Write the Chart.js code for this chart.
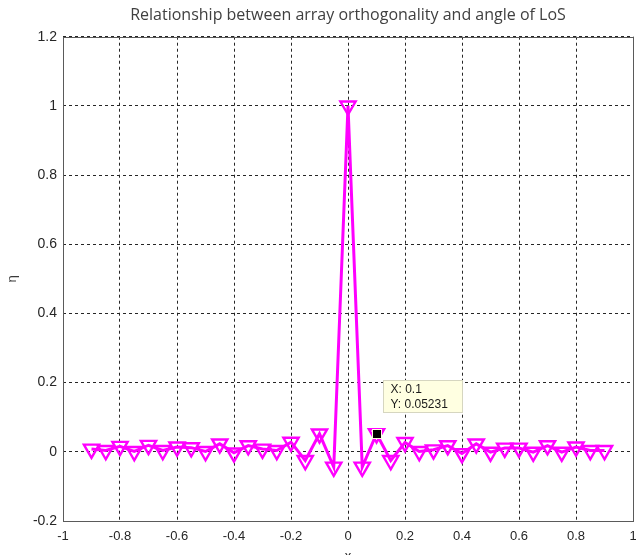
<!DOCTYPE html>
<html>
<head>
<meta charset="utf-8">
<script src="https://cdn.jsdelivr.net/npm/chart.js@4"></script>
<style>
html,body{margin:0;padding:0;background:#fff;overflow:hidden;}
#wrap{width:650px;height:570px;}
</style>
</head>
<body>
<div id="wrap"><canvas id="c" width="650" height="570"></canvas></div>
<script>
const xVals = [-0.9,-0.85,-0.8,-0.75,-0.7,-0.65,-0.6,-0.55,-0.5,-0.45,-0.4,-0.35,-0.3,-0.25,-0.2,-0.15,-0.1,-0.05,0,
  0.05,0.1,0.15,0.2,0.25,0.3,0.35,0.4,0.45,0.5,0.55,0.6,0.65,0.7,0.75,0.8,0.85,0.9];
const etaVals = [0.008,0.004,0.016,0.001,0.019,0.004,0.014,0.012,0.001,0.023,-0.003,0.018,0.008,0.004,0.028,-0.025,0.052,-0.044,1.0,
  -0.044,0.05231,-0.025,0.027,0.001,0.006,0.018,-0.005,0.023,-0.001,0.011,0.011,-0.001,0.018,-0.001,0.014,0.004,0.004];
const xTicks = [-1,-0.8,-0.6,-0.4,-0.2,0,0.2,0.4,0.6,0.8,1];
const yTicks = [-0.2,0,0.2,0.4,0.6,0.8,1,1.2];
const tipX = [0.1];
const tipY = [0.05231];
const titleText = 'Relationship between array orthogonality and angle of LoS';

const FONT = '"Liberation Sans", Arial, sans-serif';

const boxPlugin = {
  id: 'boxPlugin',
  afterDraw(chart) {
    const {ctx, chartArea: a, scales} = chart;
    ctx.save();
    ctx.strokeStyle = '#5a5a5a';
    ctx.lineWidth = 1;
    ctx.strokeRect(Math.round(a.left) + 0.5, Math.round(a.top) + 0.5, Math.round(a.right - a.left), Math.round(a.bottom - a.top));
    // data tip
    const px = scales.x.getPixelForValue(tipX[0]);
    const py = scales.y.getPixelForValue(tipY[0]);
    const bx = Math.round(px) + 6.5, by = Math.round(py) - 53.5, bw = 79, bh = 32;
    ctx.fillStyle = '#ffffe1';
    ctx.fillRect(bx, by, bw, bh);
    ctx.strokeStyle = '#d6d6c0';
    ctx.strokeRect(bx, by, bw, bh);
    ctx.fillStyle = '#1a1a1a';
    ctx.font = '12px ' + FONT;
    ctx.textBaseline = 'middle';
    ctx.textAlign = 'left';
    ctx.fillText('X: ' + tipX[0], bx + 7, by + 9);
    ctx.fillText('Y: ' + tipY[0], bx + 7, by + 24);
    ctx.fillStyle = '#ffffe1';
    ctx.fillRect(Math.round(px) - 5, Math.round(py) - 5, 10, 10);
    ctx.fillStyle = '#000';
    ctx.fillRect(Math.round(px) - 4, Math.round(py) - 4, 8, 8);
    ctx.restore();
  }
};

const fmt = v => String(parseFloat(Number(v).toFixed(1)));

new Chart(document.getElementById('c'), {
  type: 'line',
  data: {
    datasets: [{
      data: xVals.map((x, i) => ({x: x, y: etaVals[i]})),
      borderColor: '#ff00ff',
      borderWidth: 3,
      backgroundColor: 'rgba(0,0,0,0)',
      pointStyle: 'triangle',
      rotation: 180,
      pointRadius: 8.8,
      pointBorderWidth: 2.4,
      pointBorderColor: '#ff00ff',
      pointBackgroundColor: 'rgba(0,0,0,0)',
      tension: 0,
      fill: false
    }]
  },
  options: {
    responsive: false,
    animation: false,
    events: [],
    layout: {padding: {left: 0, right: 17, top: 0, bottom: 0}},
    plugins: {
      legend: {display: false},
      tooltip: {enabled: false},
      title: {
        display: true,
        fullSize: false,
        text: titleText,
        color: '#404040',
        font: {family: '"Open Sans", "Liberation Sans", sans-serif', size: 16, weight: 'normal'},
        padding: {top: 6, bottom: 11.5}
      }
    },
    scales: {
      x: {
        type: 'linear',
        min: -1, max: 1,
        afterBuildTicks: s => { s.ticks = xTicks.map(v => ({value: v})); },
        afterFit: s => { s.height = 49; },
        ticks: {color: '#262626', font: {family: FONT, size: 13}, padding: 8, maxRotation: 0, autoSkip: false, callback: fmt},
        grid: {color: '#262626', lineWidth: 1, drawTicks: false},
        border: {display: false, dash: [3, 3]},
        title: {display: true, text: 'x', color: '#262626', font: {family: FONT, size: 13}, padding: {top: 0, bottom: 6}}
      },
      y: {
        type: 'linear',
        min: -0.2, max: 1.2,
        afterBuildTicks: s => { s.ticks = yTicks.map(v => ({value: v})); },
        afterFit: s => { s.width = 63; },
        ticks: {color: '#262626', font: {family: FONT, size: 14}, padding: 6, autoSkip: false, callback: fmt},
        grid: {color: '#262626', lineWidth: 1, drawTicks: false},
        border: {display: false, dash: [3, 3]},
        title: {display: true, text: 'η', color: '#3a3a3a', font: {family: FONT, size: 13}, padding: {top: 5, bottom: 0}}
      }
    }
  },
  plugins: [boxPlugin]
});
</script>
</body>
</html>
